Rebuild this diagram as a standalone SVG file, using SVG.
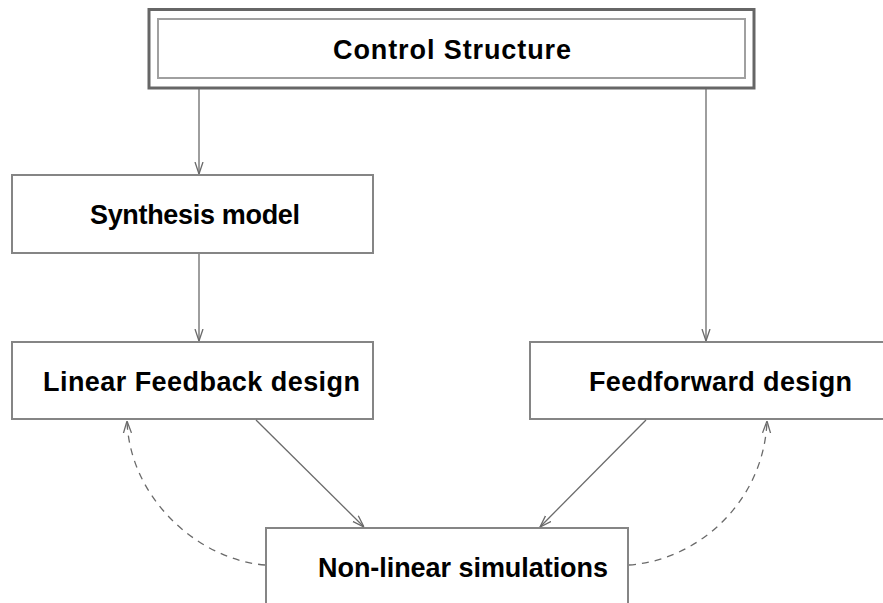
<svg xmlns="http://www.w3.org/2000/svg" width="883" height="603" viewBox="0 0 883 603">
<defs>
<style>
.box{fill:#fff;stroke:#858585;stroke-width:2}
.lbl{font-family:"Liberation Sans",Arial,sans-serif;font-weight:bold;font-size:27px;fill:#000}
.edge{fill:none;stroke:#6a6a6a;stroke-width:1.3}
.dash{fill:none;stroke:#6a6a6a;stroke-width:1.3;stroke-dasharray:7,6}
</style>
<marker id="ah" viewBox="0 0 12 10" refX="12" refY="5" markerWidth="12" markerHeight="10" markerUnits="userSpaceOnUse" orient="auto">
<path d="M0,1 L12,5 L0,9" fill="none" stroke="#6a6a6a" stroke-width="1.3"/>
</marker>
</defs>
<rect width="883" height="603" fill="#fff"/>
<g id="control">
<rect x="149" y="9.5" width="605" height="78.5" fill="#fff" stroke="#666" stroke-width="3"/>
<rect x="158" y="19" width="587" height="59" fill="#fff" stroke="#a0a0a0" stroke-width="2"/>
<text class="lbl" x="452" y="59" text-anchor="middle" textLength="238" lengthAdjust="spacing">Control Structure</text>
</g>
<g id="synthesis">
<rect class="box" x="12" y="175" width="361" height="78"/>
<text class="lbl" x="195" y="224" text-anchor="middle" textLength="210" lengthAdjust="spacing">Synthesis model</text>
</g>
<g id="linear">
<rect class="box" x="12" y="342" width="361" height="77"/>
<text class="lbl" x="43" y="391" textLength="317" lengthAdjust="spacing">Linear Feedback design</text>
</g>
<g id="feedforward">
<rect class="box" x="530" y="342" width="370" height="77"/>
<text class="lbl" x="589" y="391" textLength="263" lengthAdjust="spacing">Feedforward design</text>
</g>
<g id="nonlinear">
<rect class="box" x="266" y="528" width="362" height="90"/>
<text class="lbl" x="318" y="577" textLength="290" lengthAdjust="spacing">Non-linear simulations</text>
</g>
<g id="connectors">
<path class="edge" d="M199,89 L199,174" marker-end="url(#ah)"/>
<path class="edge" d="M199,254 L199,341" marker-end="url(#ah)"/>
<path class="edge" d="M706,89 L706,341" marker-end="url(#ah)"/>
<path class="edge" d="M256,420 L364,527" marker-end="url(#ah)"/>
<path class="edge" d="M646,420 L540,527" marker-end="url(#ah)"/>
<path class="dash" d="M265,565 C200,560 130,500 127,421" marker-end="url(#ah)"/>
<path class="dash" d="M629,565 C700,560 764,500 767,421" marker-end="url(#ah)"/>
</g>
</svg>
